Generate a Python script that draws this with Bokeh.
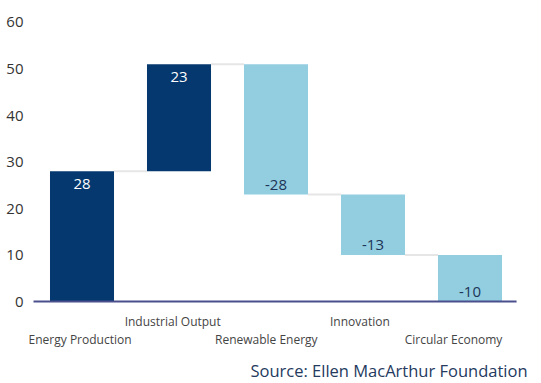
from bokeh.plotting import figure
from bokeh.models import ColumnDataSource, FixedTicker, Range1d
from bokeh.core.properties import value
from bokeh.embed import file_html
from bokeh.resources import INLINE

categories = ["Energy Production", "Industrial Output", "Renewable Energy", "Innovation", "Circular Economy"]
changes = [28, 23, -28, -13, -10]
y_ticks = [0, 10, 20, 30, 40, 50, 60]
source_note = "Source: Ellen MacArthur Foundation"

DARK = "#04386e"
LIGHT = "#92cde0"
FONT = "Open Sans"

xs = list(range(len(categories)))
bottoms, tops, cols, lab_y = [], [], [], []
run = 0
for v in changes:
    start, end = run, run + v
    bottoms.append(min(start, end))
    tops.append(max(start, end))
    cols.append(DARK if v > 0 else LIGHT)
    lab_y.append(end)
    run = end
levels = [sum(changes[:i + 1]) for i in range(len(changes))]
lab_txt = [str(v) for v in changes]

W, H = 541, 383
p = figure(width=W, height=H, output_backend="svg", toolbar_location=None,
           x_range=Range1d(-0.5722, 4.7371), y_range=Range1d(-17.63, 64.73),
           min_border_left=26, min_border_right=0, min_border_top=0, min_border_bottom=0)
p.outline_line_color = None
p.grid.grid_line_color = None
p.xaxis.visible = False
ya = p.yaxis[0]
ya.ticker = FixedTicker(ticks=y_ticks)
ya.axis_line_color = None
ya.major_tick_line_color = None
ya.minor_tick_line_color = None
ya.major_tick_in = 0
ya.major_tick_out = 0
ya.major_label_text_font = FONT
ya.major_label_text_font_size = "15px"
ya.major_label_text_color = "#333333"
ya.major_label_standoff = 3

w = 0.66
src = ColumnDataSource(dict(x=xs, b=bottoms, t=tops, c=cols))

# connectors
cx0 = [x + w / 2 for x in xs[:-1]]
cx1 = [x + 1 - w / 2 for x in xs[:-1]]
p.segment(x0=cx0, x1=cx1, y0=levels[:-1], y1=levels[:-1], line_color="#e6e6e6", line_width=2)

p.vbar(x="x", bottom="b", top="t", width=w, fill_color="c", line_color=None, source=src)

# value labels
pos = [i for i, v in enumerate(changes) if v > 0]
neg = [i for i, v in enumerate(changes) if v <= 0]
p.text(x=[xs[i] for i in pos], y=[lab_y[i] for i in pos], text=[lab_txt[i] for i in pos],
       text_color="white", text_align="center", text_baseline="middle", y_offset=13,
       text_font=value(FONT), text_font_size="15px")
p.text(x=[xs[i] for i in neg], y=[lab_y[i] for i in neg], text=[lab_txt[i] for i in neg],
       text_color="#1d3557", text_align="center", text_baseline="middle", y_offset=-10,
       text_font=value(FONT), text_font_size="15px")

# baseline
p.segment(x0=[-0.5], x1=[4.48], y0=[0], y1=[0], line_color="#4b4f8c", line_width=2)

# category labels (staggered)
lx = [x - 0.03 - 0.035 * x for x in xs]
lx[0] += 0.01
ly = [-8.17 if i % 2 == 0 else -4.3 for i in xs]
p.text(x=lx, y=ly, text=categories, text_align="center", text_baseline="middle",
       text_color="#444444", text_font=value(FONT), text_font_size="12px")

# source
p.text(x=[4.593], y=[-14.84], text=[source_note], text_align="right", text_baseline="middle",
       text_color="#243a5e", text_font=value(FONT), text_font_size="16.5px")

open("out.html", "w").write(file_html(p, INLINE))
